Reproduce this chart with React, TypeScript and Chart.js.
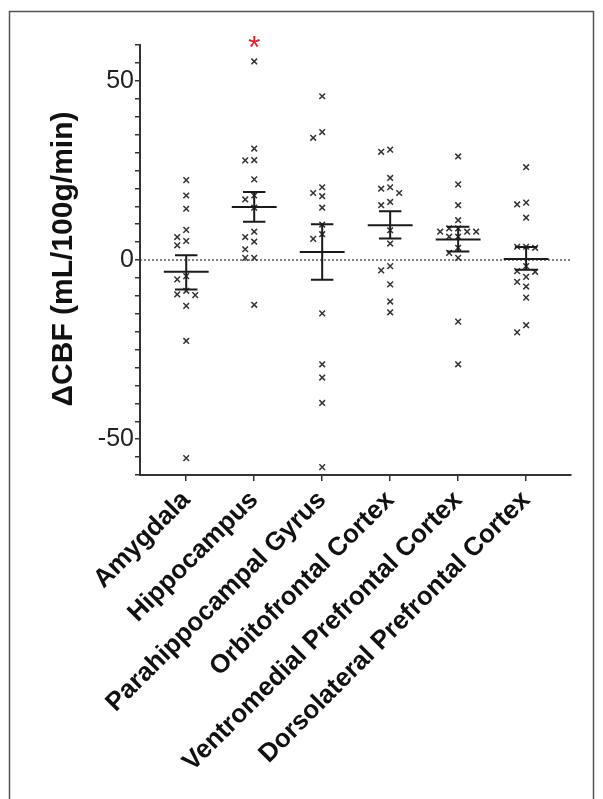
import React, { useEffect, useRef } from "react";
import { Chart, registerables } from "chart.js";

Chart.register(...registerables);

const categories = [
  "Amygdala",
  "Hippocampus",
  "Parahippocampal Gyrus",
  "Orbitofrontal Cortex",
  "Ventromedial Prefrontal Cortex",
  "Dorsolateral Prefrontal Cortex",
];

const amygdala = [22.3, 18.0, 14.3, 8.4, 6.4, 5.3, 4.1, -4.5, -5.4, -8.6, -9.6, -9.8, -12.8, -22.6, -55.3];
const hippocampus = [55.4, 31.1, 27.9, 27.8, 22.5, 18.0, 16.9, 14.6, 7.9, 6.4, 5.1, 3.0, 0.6, 0.6, -12.5];
const parahippocampal = [45.7, 35.7, 34.1, 20.3, 18.7, 17.8, 14.6, 9.9, 7.2, 5.9, -14.9, -29.1, -32.8, -39.9, -57.8];
const orbitofrontal = [30.8, 30.2, 22.9, 20.3, 19.9, 18.7, 16.2, 15.3, 8.3, 4.6, -1.7, -2.9, -6.8, -11.6, -14.6];
const ventromedial = [28.9, 21.1, 15.3, 11.1, 8.8, 8.8, 7.9, 7.9, 7.9, 6.5, 6.5, 3.4, 2.0, 0.6, -17.2, -29.1];
const dorsolateral = [25.9, 16.0, 15.5, 11.8, 3.7, 3.7, 3.4, -1.7, -3.1, -3.3, -4.7, -6.1, -7.4, -10.5, -18.2, -20.2];

const groups = [amygdala, hippocampus, parahippocampal, orbitofrontal, ventromedial, dorsolateral];

const means = [-3.3, 14.8, 2.2, 9.7, 5.7, 0.3];
const semUpper = [1.3, 19.0, 10.0, 13.6, 9.3, 3.6];
const semLower = [-8.2, 10.7, -5.5, 6.0, 2.4, -2.7];

const significant = ["Hippocampus"];

const yMin = -60;
const yMax = 60;
const yStep = 5;
const yLabeled = [-50, 0, 50];

const yTitle = "\u0394CBF (mL/100g/min)";

const FONT = "'Liberation Sans', Arial, Helvetica, sans-serif";

// simple beeswarm: offsets so that crosses with close values sit side by side
const PX_PER_UNIT_Y = 3.58;
const PX_PER_CAT = 68;
const STEP_PX = 9;
const MIN_DIST_PX = 8;

function swarm(values: number[], cat: number) {
  const placed: { dx: number; y: number }[] = [];
  const sorted = [...values].sort((a, b) => b - a);
  for (const v of sorted) {
    const order = [0, -1, 1, -2, 2, -3, 3, -4, 4];
    let chosen = 0;
    for (const k of order) {
      const dx = k * STEP_PX;
      const ok = placed.every((p) => {
        const ddx = p.dx - dx;
        const ddy = (p.y - v) * PX_PER_UNIT_Y;
        return Math.sqrt(ddx * ddx + ddy * ddy) >= MIN_DIST_PX;
      });
      if (ok) {
        chosen = dx;
        break;
      }
    }
    placed.push({ dx: chosen, y: v });
  }
  return placed.map((p) => ({ x: cat + p.dx / PX_PER_CAT, y: p.y }));
}

const overlayPlugin = {
  id: "overlay",
  beforeDatasetsDraw(chart: any) {
    const { ctx, chartArea, scales } = chart;
    const y0 = scales.y.getPixelForValue(0);
    ctx.save();
    ctx.strokeStyle = "#333";
    ctx.lineWidth = 1.2;
    ctx.setLineDash([2, 2]);
    ctx.beginPath();
    ctx.moveTo(chartArea.left, y0);
    ctx.lineTo(chartArea.right, y0);
    ctx.stroke();
    ctx.restore();
  },
  afterDatasetsDraw(chart: any) {
    const { ctx, scales } = chart;
    const xs = scales.x;
    const ys = scales.y;
    ctx.save();
    ctx.strokeStyle = "#1a1a1a";
    ctx.lineWidth = 2;
    ctx.lineCap = "butt";
    means.forEach((m, i) => {
      const cx = xs.getPixelForValue(i);
      const half = xs.getPixelForValue(i + 0.33) - cx;
      const capHalf = xs.getPixelForValue(i + 0.165) - cx;
      const ym = ys.getPixelForValue(m);
      const yu = ys.getPixelForValue(semUpper[i]);
      const yl = ys.getPixelForValue(semLower[i]);
      ctx.beginPath();
      ctx.moveTo(cx - half, ym);
      ctx.lineTo(cx + half, ym);
      ctx.moveTo(cx, yu);
      ctx.lineTo(cx, yl);
      ctx.moveTo(cx - capHalf, yu);
      ctx.lineTo(cx + capHalf, yu);
      ctx.moveTo(cx - capHalf, yl);
      ctx.lineTo(cx + capHalf, yl);
      ctx.stroke();
    });
    // significance asterisk
    ctx.fillStyle = "#e8212b";
    ctx.font = `32px ${FONT}`;
    ctx.textAlign = "center";
    ctx.textBaseline = "alphabetic";
    significant.forEach((name) => {
      const i = categories.indexOf(name);
      const top = Math.max(...groups[i]);
      const cx = xs.getPixelForValue(i);
      const py = ys.getPixelForValue(top);
      ctx.fillText("*", cx, py - 3);
    });
    ctx.restore();
  },
  afterDraw(chart: any) {
    const { ctx, chartArea } = chart;
    ctx.save();
    // y axis title
    ctx.translate(64, (chartArea.top + chartArea.bottom) / 2 - 1);
    ctx.rotate(-Math.PI / 2);
    ctx.fillStyle = "#111";
    ctx.font = `bold 30px ${FONT}`;
    ctx.textAlign = "center";
    ctx.textBaseline = "middle";
    ctx.fillText(yTitle, 0, 0);
    ctx.restore();
    // frame
    ctx.save();
    ctx.strokeStyle = "#555";
    ctx.lineWidth = 1.5;
    ctx.strokeRect(9.5, 11.5, 584, 800);
    ctx.restore();
  },
};

export default function App() {
  const canvasRef = useRef<HTMLCanvasElement | null>(null);

  useEffect(() => {
    const canvas = canvasRef.current;
    if (!canvas) return;
    const points = groups.flatMap((g, i) => swarm(g, i));
    const chart = new Chart(canvas, {
      type: "scatter",
      data: {
        datasets: [
          {
            data: points,
            pointStyle: "crossRot",
            radius: 4,
            borderWidth: 1.5,
            borderColor: "#333",
            backgroundColor: "#333",
            showLine: false,
          },
        ],
      },
      options: {
        responsive: false,
        animation: false,
        devicePixelRatio: 1,
        layout: { padding: { top: 45, right: 32, left: 0, bottom: 0 } },
        plugins: { legend: { display: false }, tooltip: { enabled: false } },
        scales: {
          x: {
            type: "linear",
            min: -0.68,
            max: 5.66,
            afterBuildTicks: (s: any) => {
              s.ticks = categories.map((_, i) => ({ value: i }));
            },
            afterFit: (s: any) => {
              s.height = 324;
            },
            grid: {
              drawOnChartArea: false,
              drawTicks: true,
              tickLength: 6,
              color: "#333",
              lineWidth: 1.5,
            },
            border: { color: "#333", width: 2 },
            ticks: {
              autoSkip: false,
              maxRotation: 45,
              minRotation: 45,
              padding: 4,
              color: "#111",
              font: { family: FONT, size: 26, weight: "bold" },
              callback: (v: any) => categories[Math.round(Number(v))] ?? "",
            },
          },
          y: {
            type: "linear",
            min: yMin,
            max: yMax,
            afterBuildTicks: (s: any) => {
              const t: { value: number }[] = [];
              for (let v = yMin; v <= yMax; v += yStep) t.push({ value: v });
              s.ticks = t;
            },
            afterFit: (s: any) => {
              s.width = 140;
            },
            grid: {
              drawOnChartArea: false,
              drawTicks: true,
              tickLength: 5,
              color: "#333",
              lineWidth: 1.5,
            },
            border: { color: "#333", width: 2 },
            ticks: {
              autoSkip: false,
              padding: 1,
              color: "#222",
              font: { family: FONT, size: 25 },
              callback: (v: any) => (yLabeled.includes(Number(v)) ? String(v) : ""),
            },
          },
        },
      },
      plugins: [overlayPlugin],
    });
    return () => chart.destroy();
  }, []);

  return (
    <div style={{ position: "absolute", left: 0, top: 0, width: 603, height: 799, background: "#fff" }}>
      <canvas ref={canvasRef} width={603} height={799} style={{ display: "block" }} />
    </div>
  );
}
